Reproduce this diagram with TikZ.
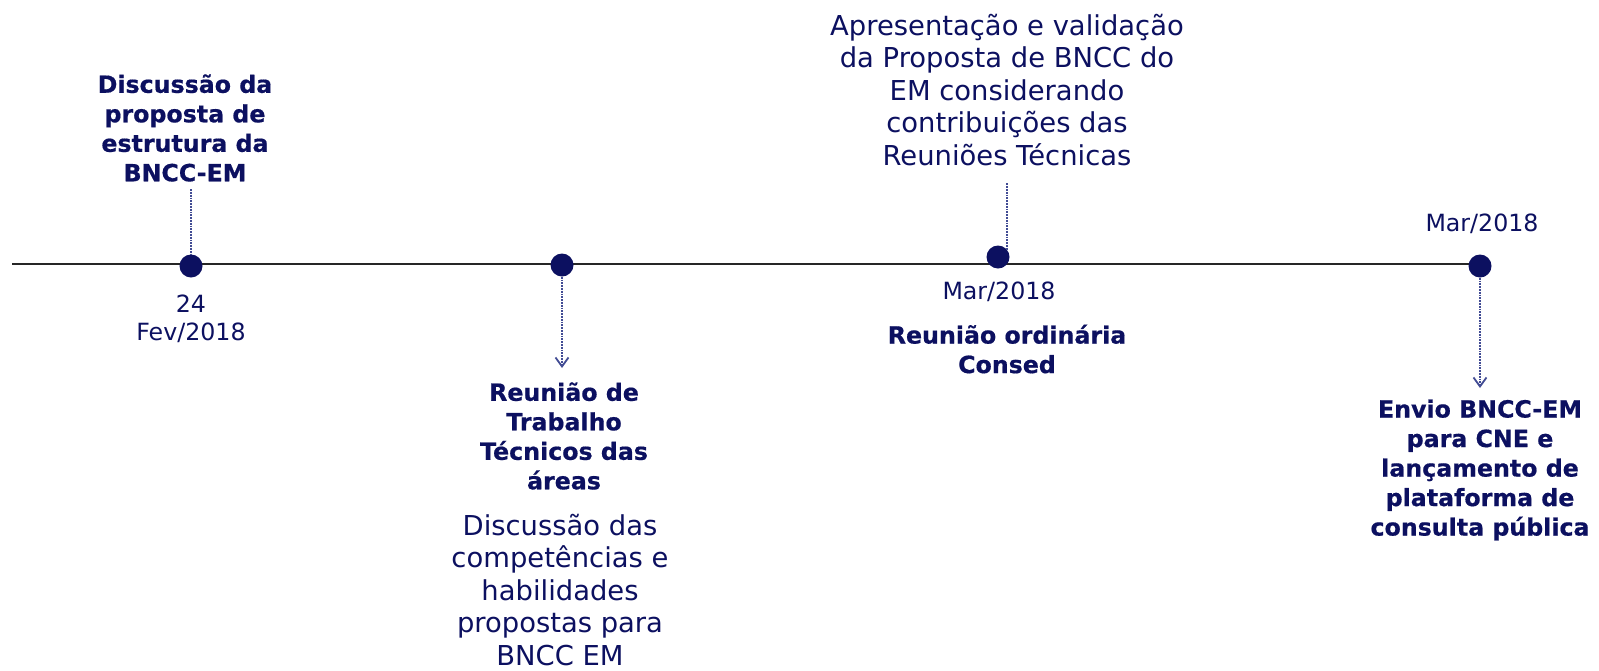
\documentclass[tikz,border=0pt]{standalone}
\usepackage{fontspec}
\setmainfont{DejaVu Sans}[BoldFeatures={FakeBold=0.6}]
\usetikzlibrary{arrows.meta}
\definecolor{azul}{RGB}{12,16,96}
\definecolor{pontilhado}{RGB}{66,76,148}

\begin{document}
\begin{tikzpicture}[x=1pt,y=-1pt,
  marco/.style={circle,fill=azul,minimum size=23pt,inner sep=0pt},
  titulo/.style={text=azul,align=center,font=\bfseries\fontsize{23.7}{29.5}\selectfont},
  texto/.style={text=azul,align=center,font=\fontsize{27.4}{32.5}\selectfont},
  data/.style={text=azul,align=center,font=\fontsize{23.7}{28.5}\selectfont},
  guia/.style={pontilhado,densely dotted,line width=1.8pt},
  seta/.style={guia,-{Straight Barb[length=9pt,width=13pt]}}]
  \useasboundingbox (0,0) rectangle (1599,670);
  % linha do tempo
  \coordinate (inicio) at (12,264);
  \coordinate (fim) at (1480,264);
  \draw[line width=2pt,black!85] (inicio) -- (fim);
  \node[marco] (m1) at (191,266) {};
  \node[marco] (m2) at (562,265) {};
  \node[marco] (m3) at (998,257) {};
  \node[marco] (m4) at (1480,266) {};
  % textos
  \node[titulo] (t1) at (185,128) {Discussão da\\proposta de\\estrutura da\\BNCC-EM};
  \node[data] (d1) at (191,319) {24\\Fev/2018};
  \node[titulo] (t2) at (564,436) {Reunião de\\Trabalho\\Técnicos das\\áreas};
  \node[texto] (x2) at (560,590) {Discussão das\\competências e\\habilidades\\propostas para\\BNCC EM};
  \node[texto] (x3) at (1007,90) {Apresentação e validação\\da Proposta de BNCC do\\EM considerando\\contribuições das\\Reuniões Técnicas};
  \node[data] (d3) at (999,292) {Mar/2018};
  \node[titulo] (t3) at (1007,349) {Reunião ordinária\\Consed};
  \node[data] (d4) at (1482,224) {Mar/2018};
  \node[titulo] (t4) at (1480,470) {Envio BNCC-EM\\para CNE e\\lançamento de\\plataforma de\\consulta pública};
  % conectores
  \coordinate (p2) at (562,368);
  \coordinate (p4) at (1480,388);
  \draw[guia,shorten <=4pt] (t1.south -| m1) -- (m1);
  \draw[seta] (m2) -- (p2);
  \draw[guia,shorten <=14pt] (x3.south -| m3.38) -- (m3.38);
  \draw[seta] (m4) -- (p4);
\end{tikzpicture}
\end{document}
